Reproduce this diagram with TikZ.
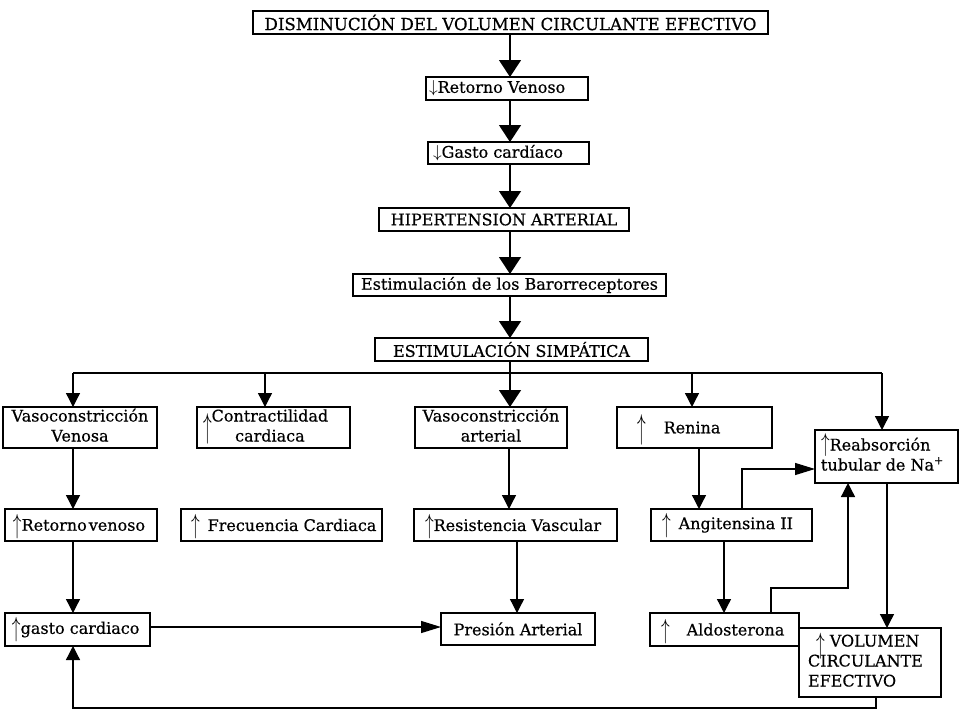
\documentclass[tikz,border=0pt]{standalone}
\usepackage{fontspec}
\setmainfont{DejaVu Serif}[FakeBold=0.5]
\usetikzlibrary{arrows.meta}
\newcommand{\upa}[2]{\smash{\raisebox{#2}{\scalebox{1}[#1]{$\uparrow$}}}}
\newcommand{\dna}{$\downarrow$}
\newcommand{\lbox}[3]{\makebox[#1pt][l]{\hspace*{#2pt}#3}}
\begin{document}
\begin{tikzpicture}[x=1pt,y=-1pt,
  box/.style={draw, line width=1.2pt, inner sep=0pt, outer sep=0pt,
    font=\fontsize{16}{20}\selectfont},
  ln/.style={line width=1.3pt},
  big/.style={ln, -{Triangle[width=22pt,length=17pt]}},
  sm/.style={ln, -{Triangle[width=14pt,length=14pt]}},
  hz/.style={ln, -{Triangle[width=12pt,length=20pt]}}]
\useasboundingbox[fill=white] (0,0) rectangle (960,720);

% main column
\node[box, minimum width=515pt, minimum height=23pt, font=\fontsize{16.6}{20}\selectfont] (top) at (510.5,22.5) {DISMINUCIÓN DEL VOLUMEN CIRCULANTE EFECTIVO};
\node[box, minimum width=162pt, minimum height=23pt] (ret) at (507,88.5) {\lbox{162}{3}{\dna Retorno Venoso}};
\node[box, minimum width=161pt, minimum height=22pt] (gas) at (508.5,153) {\lbox{161}{5}{\dna Gasto cardíaco}};
\node[box, minimum width=250pt, minimum height=23pt] (hip) at (504,219.5) {HIPERTENSION ARTERIAL};
\node[box, minimum width=313pt, minimum height=22pt] (baro) at (509.5,285) {Estimulación de los Barorreceptores};
\node[box, minimum width=273pt, minimum height=23pt] (simp) at (511.5,349.5) {ESTIMULACIÓN SIMPÁTICA};

% second row
\node[box, minimum width=154pt, minimum height=41pt] (vven) at (80,427.5) {\begin{tabular}{@{}c@{}}Vasoconstricción\\Venosa\end{tabular}};
\node[box, minimum width=153pt, minimum height=41pt] (contr) at (273.5,427.5) {\lbox{153}{6}{\upa{2}{-6pt}\begin{tabular}[c]{@{}c@{}}Contractilidad\\cardiaca\end{tabular}}};
\node[box, minimum width=152pt, minimum height=41pt] (vart) at (491,427.5) {\begin{tabular}{@{}c@{}}Vasoconstricción\\arterial\end{tabular}};
\node[box, minimum width=155pt, minimum height=41pt] (ren) at (694.5,427.5) {\lbox{155}{20}{\upa{2}{-5pt}\hspace{18pt}Renina}};
\node[box, minimum width=143pt, minimum height=53pt] (reab) at (886.5,456.5) {\lbox{143}{6}{\begin{tabular}[c]{@{}l@{}}\upa{1.5}{-1pt}Reabsorción\\tubular de Na\textsuperscript{+}\end{tabular}}};

% third row
\node[box, minimum width=152pt, minimum height=32pt] (rven) at (81,525) {\lbox{152}{8}{\upa{1.6}{-3pt}Retorno\hspace{2pt}venoso}};
\node[box, minimum width=201pt, minimum height=32pt] (frec) at (281.5,525) {\lbox{201}{10}{\upa{1.6}{-3pt}\hspace{8pt}Frecuencia Cardiaca}};
\node[box, minimum width=203pt, minimum height=32pt] (res) at (515.5,525) {\lbox{203}{11}{\upa{1.6}{-3pt}Resistencia Vascular}};
\node[box, minimum width=161pt, minimum height=32pt] (ang) at (731.5,525) {\lbox{161}{11}{\upa{1.6}{-3pt}\hspace{8pt}Angitensina II}};

% fourth row
\node[box, minimum width=145pt, minimum height=33pt] (gcar) at (77.5,629.5) {\lbox{145}{7}{\upa{1.6}{-3pt}gasto cardiaco}};
\node[box, minimum width=154pt, minimum height=32pt] (pres) at (518,629) {Presión Arterial};
\node[box, minimum width=149pt, minimum height=33pt] (aldo) at (724.5,629.5) {\lbox{149}{11}{\upa{1.6}{-3pt}\hspace{17pt}Aldosterona}};
\node[box, minimum width=142pt, minimum height=69pt] (vol) at (870,662.5) {\lbox{142}{9}{\begin{tabular}[c]{@{}l@{}}\hspace{8pt}\upa{1.7}{-7pt}\ VOLUMEN\\CIRCULANTE\\EFECTIVO\end{tabular}}};

% coordinates
\coordinate (sp) at (510,0);
\coordinate (barL) at (73,373);
\coordinate (barR) at (882,373);
\coordinate (b2) at (265,373);
\coordinate (b4) at (692,373);
\coordinate (c1) at (73,0);
\coordinate (c2) at (509,0);
\coordinate (c3) at (517,0);
\coordinate (c4) at (699,0);
\coordinate (c5) at (724,0);
\coordinate (c6) at (887,0);
\coordinate (k1) at (742,469);
\coordinate (k2) at (771,588);
\coordinate (k3) at (848,588);
\coordinate (k4) at (876,708);
\coordinate (k5) at (73,708);
\coordinate (g1) at (0,627);

% spine
\draw[big] (top.south -| sp) -- (ret.north -| sp);
\draw[big] (ret.south -| sp) -- (gas.north -| sp);
\draw[big] (gas.south -| sp) -- (hip.north -| sp);
\draw[big] (hip.south -| sp) -- (baro.north -| sp);
\draw[big] (baro.south -| sp) -- (simp.north -| sp);
\draw[big] (simp.south -| sp) -- (vart.north -| sp);

% distribution bar
\draw[ln] (barL) -- (barR);
\draw[sm] (barL) -- (vven.north -| barL);
\draw[sm] (b2) -- (contr.north -| b2);
\draw[sm] (b4) -- (ren.north -| b4);
\draw[sm] (barR) -- (reab.north -| barR);

% columns
\draw[sm] (vven.south -| c1) -- (rven.north -| c1);
\draw[sm] (rven.south -| c1) -- (gcar.north -| c1);
\draw[sm] (vart.south -| c2) -- (res.north -| c2);
\draw[sm] (res.south -| c3) -- (pres.north -| c3);
\draw[sm] (ren.south -| c4) -- (ang.north -| c4);
\draw[sm] (ang.south -| c5) -- (aldo.north -| c5);
\draw[hz] (ang.north -| k1) |- (reab.west |- k1);
\draw[sm] (aldo.north -| k2) -- (k2) -- (k3) -- (reab.south -| k3);
\draw[sm] (reab.south -| c6) -- (vol.north -| c6);
\draw[sm] (vol.south -| k4) -- (k4) -- (k5) -- (gcar.south -| k5);
\draw[hz] (gcar.east |- g1) -- (pres.west |- g1);
\end{tikzpicture}
\end{document}
